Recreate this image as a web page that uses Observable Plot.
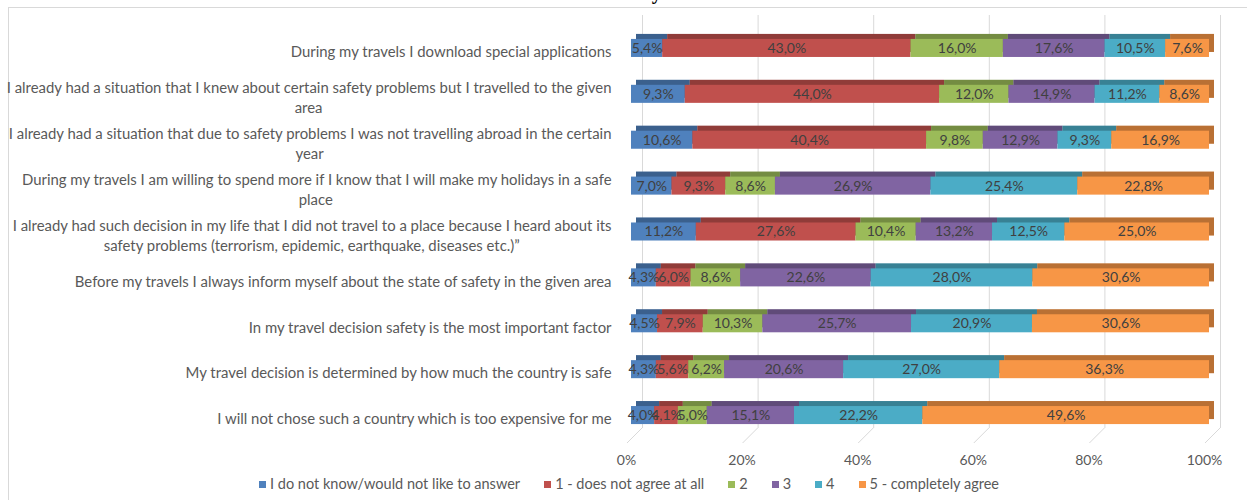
<!DOCTYPE html>
<html>
<head>
<meta charset="utf-8">
<script src="https://cdn.jsdelivr.net/npm/d3@7"></script>
<script src="https://cdn.jsdelivr.net/npm/@observablehq/plot@0.6"></script>
<style>
  body { margin: 0; background: #fff; }
  #wrap { position: relative; width: 1247px; height: 500px; overflow: hidden; font-family: Lato, "Open Sans", sans-serif; }
  #frame { position: absolute; left: 8px; top: 7px; width: 1400px; height: 700px; border: 1px solid #d9d9d9; }
  #title { position: absolute; left: 0; width: 1247px; top: -19px; text-align: center; padding-left: 10px; font: bold 20px "Liberation Serif", serif; color: #000; }
  #chart { position: absolute; left: 0; top: 0; }
  #legend { position: absolute; left: 0; width: 1258px; top: 475px; display: flex; justify-content: center; gap: 24px; font-size: 14.5px; color: #595959; line-height: 18px; }
  #legend .sw { display: inline-block; width: 7px; height: 7px; margin-right: 4px; vertical-align: 1px; }
</style>
</head>
<body>
<div id="wrap">
  <div id="frame"></div>
  <div id="title">survey</div>
  <div id="chart"></div>
  <div id="legend"></div>
</div>
<script>
// ---- data ----
const items = [
  "During my travels I download special applications",
  "I already had a situation that I knew about certain safety problems but I travelled to the given\narea",
  "I already had a situation that due to safety problems I was not travelling abroad in the certain\nyear",
  "During my travels I am willing to spend more if I know that I will make my holidays in a safe\nplace",
  "I already had such decision in my life that I did not travel to a place because I heard about its\nsafety problems (terrorism, epidemic, earthquake, diseases etc.)”",
  "Before my travels I always inform myself about the state of safety in the given area",
  "In my travel decision safety is the most important factor",
  "My travel decision is determined by how much the country is safe",
  "I will not chose such a country which is too expensive for me"
];
const series = [
  "I do not know/would not like to answer",
  "1 - does not agree at all",
  "2",
  "3",
  "4",
  "5 - completely agree"
];
const dontKnow   = [5.4, 9.3, 10.6, 7.0, 11.2, 4.3, 4.5, 4.3, 4.0];
const agree1     = [43.0, 44.0, 40.4, 9.3, 27.6, 6.0, 7.9, 5.6, 4.1];
const agree2     = [16.0, 12.0, 9.8, 8.6, 10.4, 8.6, 10.3, 6.2, 5.0];
const agree3     = [17.6, 14.9, 12.9, 26.9, 13.2, 22.6, 25.7, 20.6, 15.1];
const agree4     = [10.5, 11.2, 9.3, 25.4, 12.5, 28.0, 20.9, 27.0, 22.2];
const agree5     = [7.6, 8.6, 16.9, 22.8, 25.0, 30.6, 30.6, 36.3, 49.6];
const xTicks = [0, 0.2, 0.4, 0.6, 0.8, 1];

const colors = ["#4F81BD", "#C0504D", "#9BBB59", "#8064A2", "#4BACC6", "#F79646"];
const seriesValues = [dontKnow, agree1, agree2, agree3, agree4, agree5];

const rows = items.flatMap((item, i) =>
  series.map((s, j) => ({item, series: s, value: seriesValues[j][i]})));

const fmtVal = v => v.toFixed(1).replace(".", ",") + "%";
const fmtTick = d3.format(".0%");

// label lines
const labelSize = 14.9;
const ctx = document.createElement("canvas").getContext("2d");
ctx.font = `${labelSize}px Lato`;
const single = items.filter(d => !d.includes("\n"));
const wrapped = items.filter(d => d.includes("\n"));

const floorLines = (index, scales, values, dims) => {
  const g = d3.create("svg:g").attr("stroke", "#d9d9d9").attr("stroke-width", 1);
  const yb = dims.height - dims.marginBottom;
  for (const v of xTicks) {
    const x = scales.x(v);
    g.append("line").attr("x1", x + 11).attr("y1", yb - 10).attr("x2", x - 4).attr("y2", yb + 5);
  }
  return g.node();
};

const labelStyle = {fill: "#595959", fontSize: labelSize, fontFamily: "Lato"};
const labelMarks = [
  Plot.text(single, {x: () => 0, y: d => d, text: d => d, textAnchor: "end", dx: -20, dy: 4, ...labelStyle}),
  Plot.text(wrapped, {x: () => 0, y: d => d, text: d => d.split("\n")[0], textAnchor: "end", dx: -20, dy: -6, ...labelStyle}),
  ...wrapped.map(d => {
    const [l1, l2] = d.split("\n");
    const w = ctx.measureText(l1).width;
    return Plot.text([d], {x: () => 0, y: e => e, text: () => l2, textAnchor: "middle", dx: -20 - w / 2, dy: 14, ...labelStyle});
  })
];

const chart = Plot.plot({
  width: 1247,
  height: 470,
  marginLeft: 631,
  marginRight: 38,
  marginTop: 25,
  marginBottom: 32,
  style: {fontFamily: "Lato", background: "transparent", overflow: "visible"},
  x: {domain: [0, 1], axis: null},
  y: {domain: items, axis: null, paddingInner: 0.607, paddingOuter: 0.3035, align: 0.5, round: false},
  color: {domain: series, range: colors},
  marks: [
    Plot.ruleX(xTicks, {x: d => d, stroke: "#d9d9d9", dx: 11, dy: -10}),
    floorLines,
    Plot.text(xTicks, {x: d => d, text: d => fmtTick(d), frameAnchor: "bottom", dy: 26, dx: -5,
      fill: "#595959", fontSize: 14, fontFamily: "Lato"}),
    Plot.barX(rows, Plot.stackX({x: "value", y: "item", fill: "series", offset: "normalize", dx: 5, dy: -5})),
    Plot.barX(rows, Plot.stackX({x: "value", y: "item", z: "series", fill: "black", fillOpacity: 0.25, offset: "normalize", dx: 5, dy: -5})),
    Plot.barX(rows, Plot.stackX({x: "value", y: "item", fill: "series", offset: "normalize"})),
    Plot.text(rows, Plot.stackX({x: "value", y: "item", z: "series", offset: "normalize",
      text: d => fmtVal(d.value), fill: "#404040", fontSize: 14, fontFamily: "Lato"})),
    ...labelMarks
  ]
});
document.getElementById("chart").append(chart);

const legend = document.getElementById("legend");
series.forEach((s, i) => {
  const span = document.createElement("span");
  const sw = document.createElement("span");
  sw.className = "sw";
  sw.style.background = colors[i];
  span.append(sw, document.createTextNode(s));
  legend.append(span);
});
</script>
</body>
</html>
